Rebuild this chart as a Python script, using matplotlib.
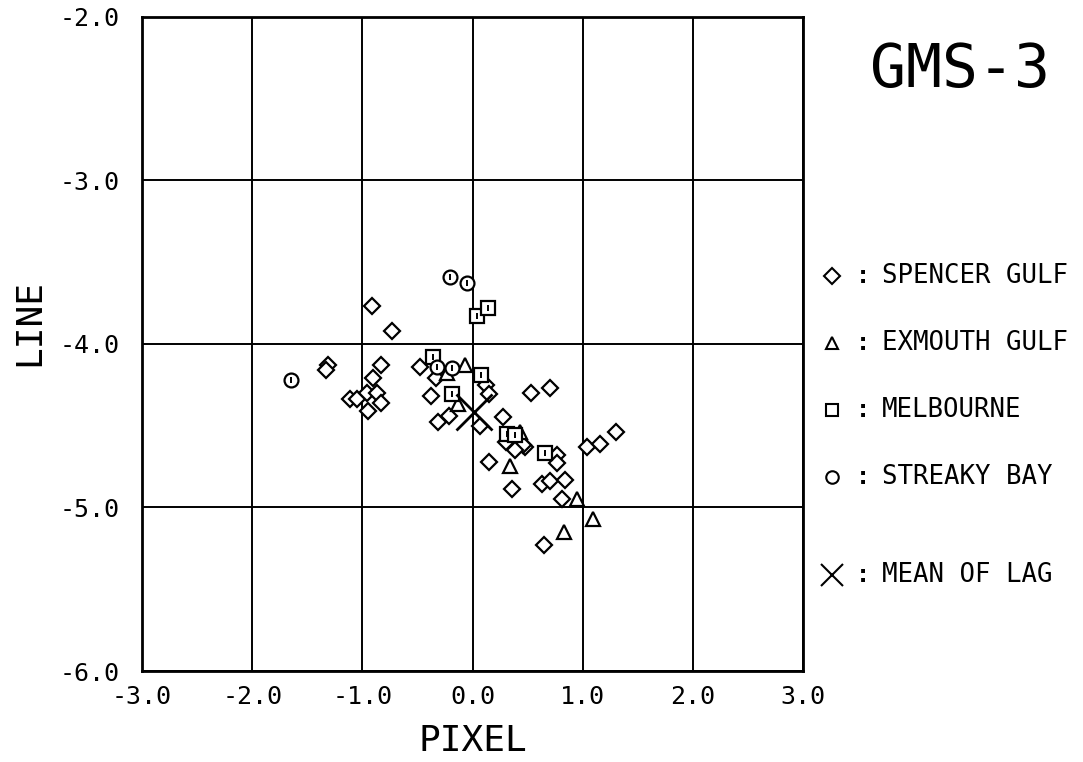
import matplotlib
matplotlib.use("Agg")
import matplotlib.pyplot as plt
from matplotlib.lines import Line2D

# ---- data ----
spencer_x = [-0.91, -0.73, -1.31, -1.33, -0.83, -0.90, -1.11, -1.05, -0.96, -0.87,
             -0.83, -0.95, -0.48, -0.33, -0.38, -0.21, -0.31, 0.07, 0.12, 0.15,
             0.53, 0.70, 0.28, 0.15, 0.36, 0.63, 0.70, 0.84, 0.81, 0.77,
             0.77, 1.04, 1.16, 1.30, 0.65, 0.48, 0.36, 0.46, 0.39, 0.30]
spencer_y = [-3.77, -3.92, -4.13, -4.16, -4.13, -4.21, -4.34, -4.34, -4.30, -4.30,
             -4.36, -4.41, -4.14, -4.21, -4.32, -4.44, -4.48, -4.50, -4.25, -4.31,
             -4.30, -4.27, -4.45, -4.72, -4.89, -4.86, -4.84, -4.83, -4.95, -4.68,
             -4.73, -4.63, -4.61, -4.54, -5.23, -4.63, -4.60, -4.62, -4.65, -4.60]
exmouth_x = [-0.07, -0.23, -0.13, 0.34, 0.95, 1.09, 0.83, 0.43]
exmouth_y = [-4.13, -4.18, -4.37, -4.75, -4.95, -5.07, -5.15, -4.54]
melb_x = [0.04, 0.14, -0.36, -0.19, 0.08, 0.31, 0.39, 0.66]
melb_y = [-3.83, -3.78, -4.08, -4.31, -4.19, -4.55, -4.56, -4.67]
streaky_x = [-0.20, -0.05, -1.65, -0.32, -0.19]
streaky_y = [-3.59, -3.63, -4.22, -4.14, -4.15]
mean_x = [0.01]
mean_y = [-4.42]

x_ticks = [-3.0, -2.0, -1.0, 0.0, 1.0, 2.0, 3.0]
y_ticks = [-6.0, -5.0, -4.0, -3.0, -2.0]
legend_labels = ["SPENCER GULF", "EXMOUTH GULF", "MELBOURNE", "STREAKY BAY", "MEAN OF LAG"]
title = "GMS-3"

MONO = "DejaVu Sans Mono"

fig = plt.figure(figsize=(10.83, 7.62), dpi=100)
ax = fig.add_axes([0.1311, 0.1194, 0.6104, 0.8589])
ax.set_xlim(-3, 3)
ax.set_ylim(-6, -2)
ax.set_xticks(x_ticks)
ax.set_yticks(y_ticks)
ax.tick_params(axis="y", length=0, pad=16)
ax.tick_params(axis="x", length=0, pad=10)
ax.set_xticklabels(["%.1f" % v for v in x_ticks], family=MONO, fontsize=18)
ax.set_yticklabels(["%.1f" % v for v in y_ticks], family=MONO, fontsize=18)
ax.grid(True, color="black", linewidth=1.4)
for s in ax.spines.values():
    s.set_linewidth(2)
ax.set_axisbelow(True)

mk = dict(linestyle="none", markerfacecolor="white", markeredgecolor="black",
          markeredgewidth=1.6, zorder=3)
ax.plot(spencer_x, spencer_y, marker="D", markersize=8.5, **mk)
ax.plot(exmouth_x, exmouth_y, marker="^", markersize=10, **mk)
ax.plot(melb_x, melb_y, marker="s", markersize=10, **mk)
ax.plot(streaky_x, streaky_y, marker="o", markersize=10, **mk)
# small inner ticks
inner = dict(linestyle="none", marker="|", markersize=4, markeredgewidth=1.4,
             color="black", zorder=4)
ax.plot(melb_x, melb_y, **inner)
ax.plot(streaky_x, streaky_y, **inner)
ax.plot(mean_x, mean_y, linestyle="none", marker="x", markersize=26,
        markeredgewidth=2.0, color="black", zorder=5)

ax.set_xlabel("PIXEL", family=MONO, fontsize=26, labelpad=11)
ax.set_ylabel("LINE", family=MONO, fontsize=26)
ax.yaxis.set_label_coords(-0.145, 0.533)

fig.text(960 / 1083, 1 - 70 / 762, title, family=MONO, fontsize=43,
         ha="center", va="center")

# legend drawn in figure coordinates
rows_y = [276, 343, 410, 477, 575]
markers = [("D", 8), ("^", 9), ("s", 9), ("o", 9), ("x", 16)]
for (m, ms), ypx, lab in zip(markers, rows_y, legend_labels):
    yf = 1 - ypx / 762
    fc = "white" if m != "x" else "black"
    fig.add_artist(Line2D([832 / 1083], [yf], marker=m, markersize=ms,
                          markerfacecolor=fc, markeredgecolor="black",
                          markeredgewidth=1.5, linestyle="none"))
    fig.text(863 / 1083, yf, ":", family=MONO, fontsize=17, fontweight="bold",
             ha="center", va="center")
    fig.text(882 / 1083, yf, lab, family=MONO, fontsize=18.5, ha="left", va="center")

fig.savefig("out.png", dpi=100, facecolor="white")
